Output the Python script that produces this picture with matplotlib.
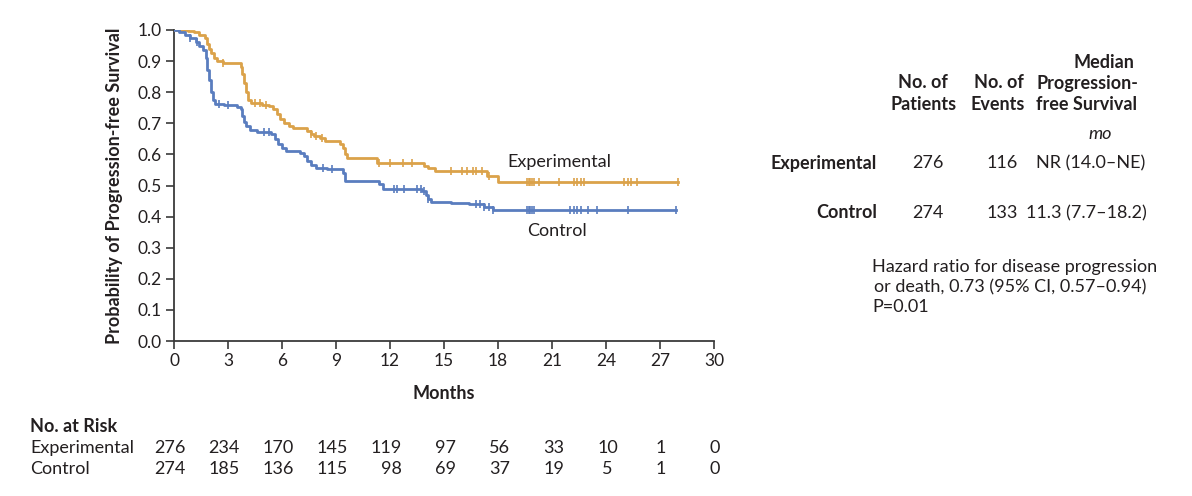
import matplotlib.pyplot as plt
import numpy as np

plt.rcParams['font.family'] = ['Lato', 'DejaVu Sans']

# Kaplan-Meier steps (time in months, survival after that time)
exp_t = [0, 0.8, 1.1, 1.4, 1.7, 1.85, 1.95, 2.05, 2.2, 2.4, 2.7, 3.7, 3.8, 3.9, 4.0, 4.1, 4.3,
         4.9, 5.3, 5.5, 5.7, 5.9, 6.1, 6.4, 6.6, 7.4, 7.6, 7.8, 8.1, 8.4, 9.2, 9.4, 9.5, 9.6,
         11.3, 13.9, 14.1, 14.5, 17.4, 18.0]
exp_s = [1.0, 0.996, 0.992, 0.985, 0.975, 0.955, 0.94, 0.925, 0.91, 0.90, 0.895, 0.88, 0.86,
         0.83, 0.80, 0.775, 0.765, 0.76, 0.755, 0.745, 0.73, 0.715, 0.70, 0.69, 0.684, 0.675,
         0.667, 0.66, 0.652, 0.642, 0.635, 0.62, 0.60, 0.588, 0.572, 0.563, 0.555, 0.546,
         0.532, 0.511]
exp_end = 28.0
exp_cens = [2.7, 4.5, 4.8, 5.1, 7.6, 7.9, 8.2, 11.4, 12.0, 12.7, 13.2, 15.4, 16.0, 16.3,
            16.6, 16.8, 17.1, 17.5, 19.6, 19.7, 19.8, 19.9, 20.0, 20.3, 21.4, 22.2, 22.4,
            22.6, 22.8, 25.0, 25.2, 25.4, 25.7, 28.0]

ctl_t = [0, 0.3, 0.6, 0.9, 1.2, 1.4, 1.6, 1.75, 1.85, 1.95, 2.05, 2.15, 2.3, 2.8, 3.5, 3.7,
         3.8, 3.9, 4.0, 4.2, 4.6, 5.4, 5.6, 5.8, 6.0, 6.2, 7.0, 7.2, 7.4, 7.6, 7.9, 8.5, 9.4,
         9.5, 11.4, 11.6, 13.8, 14.0, 14.1, 14.3, 15.4, 16.4, 17.2, 17.7]
ctl_s = [1.0, 0.993, 0.985, 0.975, 0.962, 0.95, 0.935, 0.91, 0.87, 0.84, 0.80, 0.775, 0.763,
         0.758, 0.752, 0.745, 0.725, 0.705, 0.69, 0.678, 0.672, 0.665, 0.65, 0.635, 0.62,
         0.612, 0.606, 0.595, 0.58, 0.565, 0.556, 0.552, 0.54, 0.516, 0.505, 0.49, 0.483,
         0.47, 0.455, 0.448, 0.445, 0.44, 0.43, 0.421]
ctl_end = 27.9
ctl_cens = [0.9, 1.3, 2.5, 3.0, 5.0, 5.3, 8.3, 8.8, 12.2, 12.4, 12.8, 13.5, 13.7, 13.9,
            14.1, 16.8, 17.0, 17.2, 17.5, 17.7, 19.6, 19.7, 19.8, 19.9, 20.0, 22.0, 22.2,
            22.4, 22.6, 23.0, 23.5, 25.2, 27.9]

risk_times = [0, 3, 6, 9, 12, 15, 18, 21, 24, 27, 30]
risk_exp = [276, 234, 170, 145, 119, 97, 56, 33, 10, 1, 0]
risk_ctl = [274, 185, 136, 115, 98, 69, 37, 19, 5, 1, 0]

orange = '#DBA24A'
blue = '#5A7DBF'
txt = '#231F20'

fig = plt.figure(figsize=(11.92, 4.96), dpi=100)
ax = fig.add_axes([174 / 1192, 1 - 341 / 496, 540 / 1192, 311 / 496])


def draw(t, s, end, cens, color):
    tt = list(t) + [end]
    ss = list(s) + [s[-1]]
    ax.step(tt, ss, where='post', color=color, lw=2.0, zorder=3)
    idx = np.searchsorted(t, cens, side='right') - 1
    ax.plot(cens, np.array(s)[idx], ls='none', marker='|', ms=6, mew=1.2,
            color=color, zorder=3)


draw(exp_t, exp_s, exp_end, exp_cens, orange)
draw(ctl_t, ctl_s, ctl_end, ctl_cens, blue)

ax.set_xlim(0, 30)
ax.set_ylim(0, 1.0)
ax.set_xticks(range(0, 31, 3))
ax.set_yticks(np.arange(0, 1.01, 0.1))
ax.set_yticklabels([f'{v:.1f}' for v in np.arange(0, 1.01, 0.1)])
for sp in ['top', 'right']:
    ax.spines[sp].set_visible(False)
for sp in ['left', 'bottom']:
    ax.spines[sp].set_color('#3a3a3a')
    ax.spines[sp].set_linewidth(1.3)
ax.tick_params(direction='out', length=6, width=1.2, color='#3a3a3a',
               labelsize=12.5, labelcolor=txt, pad=3)

ax.set_ylabel('Probability of Progression-free Survival', fontsize=13,
              fontweight='bold', color=txt, labelpad=10)
ax.set_xlabel('Months', fontsize=13, fontweight='bold', color=txt, labelpad=11)

fs = 13
ax.text(18.5, 0.575, 'Experimental', fontsize=fs, color=txt, va='center')
ax.text(19.6, 0.355, 'Control', fontsize=fs, color=txt, va='center')

# number at risk
fig.text(30 / 1192, 1 - 427 / 496, 'No. at Risk', fontsize=fs, fontweight='bold',
         color=txt, va='center')
for row, (name, vals) in enumerate([('Experimental', risk_exp), ('Control', risk_ctl)]):
    yy = 1 - (448 + 21 * row) / 496
    fig.text(30 / 1192, yy, name, fontsize=fs, color=txt, va='center')
    for t, v in zip(risk_times, vals):
        xpix = 174 + 18 * t
        if v >= 10:
            fig.text((xpix + 12) / 1192, yy, str(v), fontsize=fs, color=txt,
                     va='center', ha='right')
        else:
            fig.text((xpix + 1) / 1192, yy, str(v), fontsize=fs, color=txt,
                     va='center', ha='center')


# summary table on the right
def ft(x, y, s, **kw):
    fig.text(x / 1192, 1 - y / 496, s, fontsize=fs, color=txt, va='center', **kw)


ft(1104, 63, 'Median', ha='center', fontweight='bold')
ft(923, 83, 'No. of', ha='center', fontweight='bold')
ft(999, 83, 'No. of', ha='center', fontweight='bold')
ft(1087, 83, 'Progression-', ha='center', fontweight='bold')
ft(924, 104, 'Patients', ha='center', fontweight='bold')
ft(998, 104, 'Events', ha='center', fontweight='bold')
ft(1087, 104, 'free Survival', ha='center', fontweight='bold')
ft(1100, 134, 'mo', ha='center', style='italic')

ft(877, 163, 'Experimental', ha='right', fontweight='bold')
ft(928, 163, '276', ha='center')
ft(1002, 163, '116', ha='center')
ft(1145, 163, 'NR (14.0–NE)', ha='right')

ft(877, 213, 'Control', ha='right', fontweight='bold')
ft(928, 213, '274', ha='center')
ft(1002, 213, '133', ha='center')
ft(1147, 213, '11.3 (7.7–18.2)', ha='right')

ft(872, 267, 'Hazard ratio for disease progression', ha='left')
ft(1146, 287, 'or death, 0.73 (95% CI, 0.57–0.94)', ha='right')
ft(872, 307, 'P=0.01', ha='left')

fig.savefig('out.png', dpi=100)
